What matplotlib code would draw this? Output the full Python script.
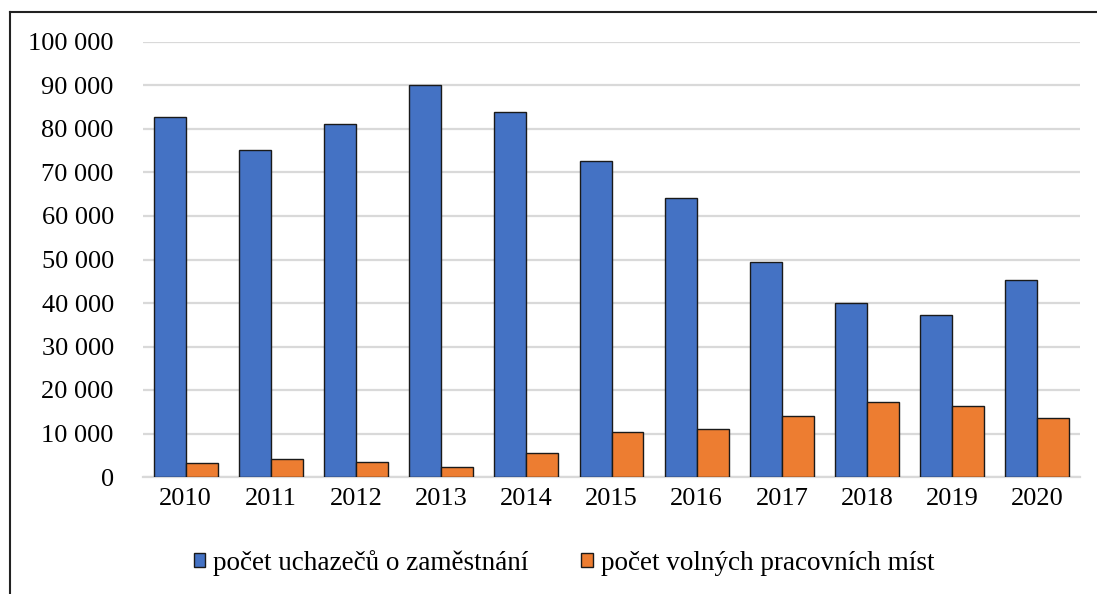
import matplotlib
matplotlib.use("Agg")
import matplotlib.pyplot as plt
import numpy as np
from matplotlib.patches import Patch
from matplotlib.lines import Line2D
from matplotlib.ticker import FuncFormatter

years = ["2010", "2011", "2012", "2013", "2014", "2015", "2016", "2017", "2018", "2019", "2020"]
uchazeci = [82700, 75100, 81100, 90000, 83900, 72600, 64100, 49500, 39900, 37300, 45200]
volna_mista = [3200, 4200, 3400, 2300, 5500, 10300, 11000, 14000, 17200, 16300, 13500]
series_names = ["počet uchazečů o zaměstnání", "počet volných pracovních míst"]

plt.rcParams['font.family'] = ['Liberation Serif', 'DejaVu Serif']
W, H = 1097, 594
fig = plt.figure(figsize=(W / 100, H / 100), dpi=100)
ax = fig.add_axes([143 / W, (H - 477) / H, (1080 - 143) / W, (477 - 42) / H])

x = np.arange(len(years))
bw = 0.375
blue = "#4472C4"
orange = "#ED7D31"
ax.bar(x - bw / 2, uchazeci, bw, color=blue, edgecolor="#1a1a1a", linewidth=1.0, zorder=3)
ax.bar(x + bw / 2, volna_mista, bw, color=orange, edgecolor="#1a1a1a", linewidth=1.0, zorder=3)

ax.set_xlim(-0.5, len(years) - 0.5)
ax.set_ylim(0, 100000)
ax.set_yticks(np.arange(0, 100001, 10000))
ax.yaxis.set_major_formatter(FuncFormatter(lambda v, p: f"{int(v):,}".replace(",", " ")))
ax.set_xticks(x)
ax.set_xticklabels(years)
ax.tick_params(axis='both', length=0, labelsize=19, colors="black")
ax.tick_params(axis='y', pad=21)
ax.tick_params(axis='x', pad=8)
ax.grid(axis='y', color="#D9D9D9", linewidth=1.6, zorder=0)
for s in ["top", "right", "left"]:
    ax.spines[s].set_visible(False)
ax.spines["bottom"].set_color("#D9D9D9")
ax.spines["bottom"].set_linewidth(1.6)

handles = [Patch(facecolor=blue, edgecolor="#1a1a1a", linewidth=1.0),
           Patch(facecolor=orange, edgecolor="#1a1a1a", linewidth=1.0)]
fig.legend(handles, series_names, loc="center", bbox_to_anchor=(564 / W, (H - 563) / H),
           ncol=2, frameon=False, fontsize=19.5, handlelength=0.42, handleheight=0.42,
           handletextpad=0.3, columnspacing=1.95)

# chart frame border (top and left visible)
fig.add_artist(Line2D([9.5 / W, 1.0], [(H - 12) / H, (H - 12) / H], color="#222222", linewidth=1.5))
fig.add_artist(Line2D([9.5 / W, 9.5 / W], [0, (H - 12) / H], color="#222222", linewidth=1.5))

fig.savefig("out.png", dpi=100)
